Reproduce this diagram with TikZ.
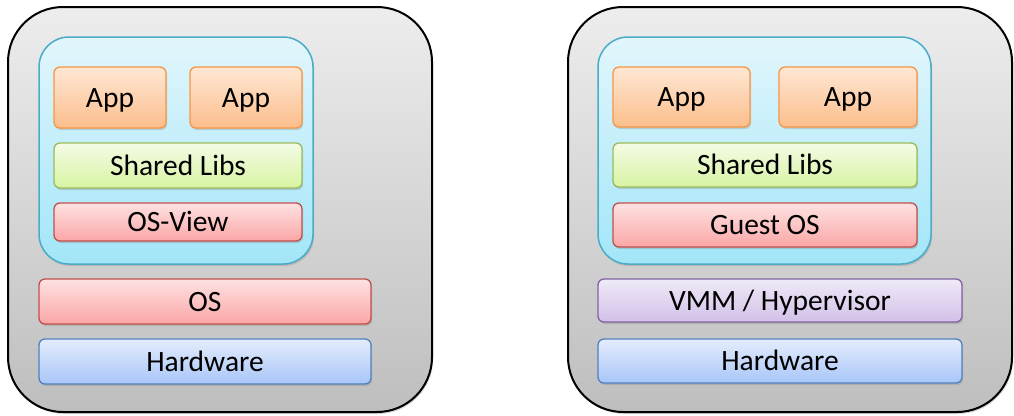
\documentclass[tikz,border=0pt]{standalone}
\usepackage{fontspec}
\setmainfont{Carlito}
\usetikzlibrary{shadows}
\definecolor{outtop}{HTML}{EDEDED}
\definecolor{outbot}{HTML}{BEBEBE}
\definecolor{cyline}{HTML}{4BACC6}
\definecolor{cytop}{HTML}{E2F6FC}
\definecolor{cybot}{HTML}{A2E6F8}
\definecolor{orline}{HTML}{F79646}
\definecolor{ortop}{HTML}{FEE7D4}
\definecolor{orbot}{HTML}{FCBE8C}
\definecolor{grline}{HTML}{9BBB59}
\definecolor{grtop}{HTML}{F4FBE6}
\definecolor{grbot}{HTML}{D8F4A2}
\definecolor{rdline}{HTML}{C0504D}
\definecolor{rdtop}{HTML}{FDE2E2}
\definecolor{rdbot}{HTML}{FCA6A6}
\definecolor{puline}{HTML}{8064A2}
\definecolor{putop}{HTML}{EFEAF7}
\definecolor{pubot}{HTML}{D2C0E8}
\definecolor{blline}{HTML}{4F81BD}
\definecolor{bltop}{HTML}{E4ECFC}
\definecolor{blbot}{HTML}{A8C6F8}
\tikzset{
  shad/.style={drop shadow={opacity=0.3, shadow xshift=1.2pt, shadow yshift=-2pt}},
  outerbox/.style={rectangle, rounded corners=55pt, line width=2pt, draw=black,
    top color=outtop, bottom color=outbot, inner sep=0pt, shad},
  cybox/.style={rectangle, rounded corners=30pt, line width=1.5pt, draw=cyline,
    top color=cytop, bottom color=cybot, inner sep=0pt, shad},
  layer/.style={rectangle, rounded corners=6pt, line width=1.3pt, inner sep=0pt,
    text height=19pt, text depth=0pt, shad},
  orbox/.style={layer, draw=orline, top color=ortop, bottom color=orbot},
  grbox/.style={layer, draw=grline, top color=grtop, bottom color=grbot},
  rdbox/.style={layer, draw=rdline, top color=rdtop, bottom color=rdbot},
  pubox/.style={layer, draw=puline, top color=putop, bottom color=pubot},
  blbox/.style={layer, draw=blline, top color=bltop, bottom color=blbot},
}
\begin{document}
\begin{tikzpicture}[x=1pt,y=-1pt,font=\fontsize{29.5}{34}\selectfont]
\useasboundingbox (0,0) rectangle (1014,415);
% left panel
\node[outerbox, minimum width=424pt, minimum height=405pt] (L) at (220,209.5) {};
\node[cybox, minimum width=274pt, minimum height=227pt] (Lc) at (176,150.5) {};
\node[orbox, minimum width=112pt, minimum height=61pt] (La1) at (110,97.5) {App};
\node[orbox, minimum width=112pt, minimum height=61pt] (La2) at (246,97.5) {App};
\node[grbox, minimum width=248pt, minimum height=45pt] (Ls) at (178,165.5) {Shared Libs};
\node[rdbox, minimum width=248pt, minimum height=38pt] (Lv) at (178,222) {OS-View};
\node[rdbox, minimum width=332pt, minimum height=45pt] (Lo) at (205,301.5) {OS};
\node[blbox, minimum width=332pt, minimum height=45pt] (Lh) at (205,361.5) {Hardware};
% right panel
\node[outerbox, minimum width=444pt, minimum height=405pt] (R) at (790,209.5) {};
\node[cybox, minimum width=333pt, minimum height=227pt] (Rc) at (764.5,150.5) {};
\node[orbox, minimum width=137pt, minimum height=60pt] (Ra1) at (681.5,97) {App};
\node[orbox, minimum width=138pt, minimum height=60pt] (Ra2) at (848,97) {App};
\node[grbox, minimum width=304pt, minimum height=44pt] (Rs) at (765,165) {Shared Libs};
\node[rdbox, minimum width=304pt, minimum height=44pt] (Rg) at (765,225) {Guest OS};
\node[pubox, minimum width=364pt, minimum height=43pt] (Rv) at (780,300.5) {VMM / Hypervisor};
\node[blbox, minimum width=364pt, minimum height=44pt] (Rh) at (780,361) {Hardware};
\end{tikzpicture}
\end{document}
